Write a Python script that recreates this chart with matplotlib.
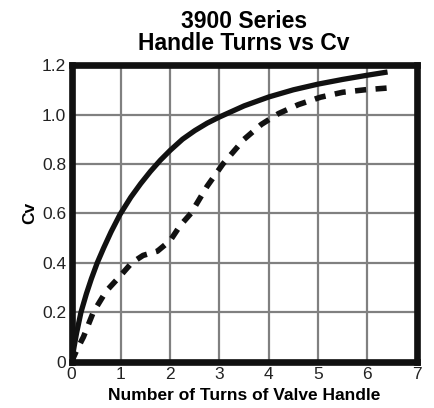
import numpy as np
from matplotlib import pyplot as plt

# solid curve (upper)
turns_a = [0, 0.05, 0.1, 0.19, 0.3, 0.4, 0.52, 0.65, 0.8, 0.98, 1.2, 1.4, 1.6, 1.8, 2.0,
           2.25, 2.5, 2.75, 3.0, 3.5, 4.0, 4.5, 5.0, 5.5, 6.0, 6.41]
cv_a = [0, 0.06, 0.115, 0.2, 0.275, 0.335, 0.4, 0.46, 0.525, 0.595, 0.665, 0.72, 0.77, 0.815, 0.855,
        0.9, 0.935, 0.965, 0.99, 1.035, 1.071, 1.1, 1.123, 1.142, 1.159, 1.172]

# dashed curve (lower)
turns_b = [0, 0.1, 0.24, 0.44, 0.7, 1.0, 1.22, 1.45, 1.74, 2.0, 2.2, 2.42, 2.75, 3.07,
           3.5, 3.85, 4.2, 4.6, 5.05, 5.5, 5.95, 6.4]
cv_b = [0, 0.045, 0.1, 0.2, 0.285, 0.35, 0.4, 0.43, 0.447, 0.49, 0.55, 0.6, 0.71, 0.8,
        0.9, 0.96, 1.004, 1.04, 1.07, 1.09, 1.1, 1.107]

xticks = [0, 1, 2, 3, 4, 5, 6, 7]
yticks = [0, 0.2, 0.4, 0.6, 0.8, 1.0, 1.2]
ylabels = ['0', '0.2', '0.4', '0.6', '0.8', '1.0', '1.2']

plt.rcParams['font.family'] = ['Liberation Sans', 'DejaVu Sans']

fig = plt.figure(figsize=(4.34, 4.08), dpi=100)
ax = fig.add_axes([0.1650, 0.1135, 0.795, 0.727])

ax.plot(turns_a, cv_a, color='#111111', lw=3.8, solid_capstyle='butt', solid_joinstyle='round')
ax.plot(turns_b, cv_b, color='#111111', lw=4.0, dashes=(2.0, 1.7), dash_capstyle='butt')

ax.set_xlim(0, 7)
ax.set_ylim(0, 1.2)
ax.set_xticks(xticks)
ax.set_yticks(yticks)
ax.set_yticklabels(ylabels)
ax.tick_params(length=0, labelsize=12.5, pad=4, labelcolor='#222222')
ax.grid(True, color='#808080', lw=1.6)
ax.set_axisbelow(True)
for s in ax.spines.values():
    s.set_linewidth(4.8)
    s.set_color('#111111')

ax.set_xlabel('Number of Turns of Valve Handle', fontsize=12.5, fontweight='bold', labelpad=4)
ax.set_ylabel('Cv', fontsize=12.5, fontweight='bold', labelpad=3)
ax.set_title('3900 Series\nHandle Turns vs Cv', fontsize=16.5, fontweight='bold', linespacing=0.95, pad=11)

fig.savefig('out.png', dpi=100)
